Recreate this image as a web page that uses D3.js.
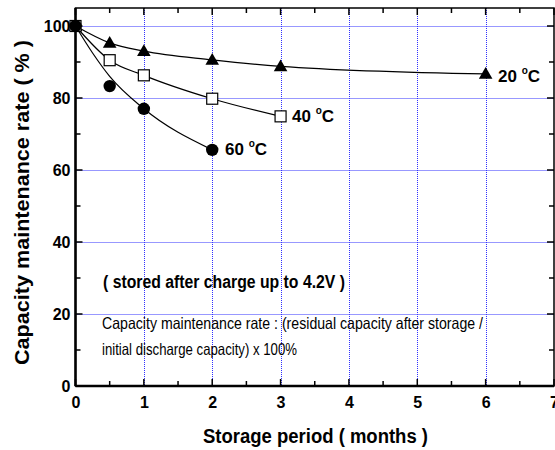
<!DOCTYPE html>
<html><head><meta charset="utf-8">
<script src="https://cdn.jsdelivr.net/npm/d3@7"></script>
<style>body{margin:0;background:#fff}svg{display:block}text{font-family:"Liberation Sans",Arial,sans-serif}</style>
</head><body><svg id="c" width="555" height="450"></svg>
<script>
// Data
const months = [0, 0.5, 1, 2, 3, 6];
const rate20 = [100, 95.3, 93.0, 90.6, 88.8, 86.7];
const months40 = [0, 0.5, 1, 2, 3];
const rate40 = [100, 90.5, 86.3, 79.8, 74.9];
const months60 = [0, 0.5, 1, 2];
const rate60 = [100, 83.3, 77.0, 65.6];
// fitted curves
const fit60x = [0, 0.25, 0.5, 1, 2];
const fit60y = [100, 92.5, 86.0, 77.0, 65.6];
const xTicks = [0, 1, 2, 3, 4, 5, 6, 7];
const yTicks = [0, 20, 40, 60, 80, 100];
const seriesLabels = ["20", "40", "60"];

const svg = d3.select("#c");
const L = 75.5, R = 554, T = 8, B = 386;
const x = d3.scaleLinear().domain([0, 7]).range([L, R]);
const y = d3.scaleLinear().domain([0, 105]).range([B, T]);
const px = v => Math.round(v) + 0.5;

// grid
const grid = svg.append("g").attr("stroke", "#3030ff").attr("stroke-width", 1).attr("stroke-dasharray", "1,1");
xTicks.slice(1, -1).forEach(v => grid.append("line").attr("x1", px(x(v))).attr("x2", px(x(v))).attr("y1", T).attr("y2", B));
yTicks.slice(1).forEach(v => grid.append("line").attr("x1", L).attr("x2", R).attr("y1", px(y(v))).attr("y2", px(y(v))));

// frame
svg.append("rect").attr("x", L).attr("y", T).attr("width", R - L).attr("height", B - T)
  .attr("fill", "none").attr("stroke", "#000").attr("stroke-width", 1.5);
svg.append("line").attr("x1", L).attr("x2", R).attr("y1", B).attr("y2", B).attr("stroke", "#000").attr("stroke-width", 2.5);
svg.append("line").attr("x1", L).attr("x2", L).attr("y1", T).attr("y2", B).attr("stroke", "#000").attr("stroke-width", 2.5);

// axes (ticks inward)
const xMinor = d3.range(0, 7.01, 0.5);
const yMinor = d3.range(0, 105, 10);
const tk = svg.append("g").attr("stroke", "#000").attr("stroke-width", 1.5);
xMinor.forEach(v => {
  const len = Number.isInteger(v) ? 7 : 5;
  tk.append("line").attr("x1", x(v)).attr("x2", x(v)).attr("y1", B).attr("y2", B - len);
  tk.append("line").attr("x1", x(v)).attr("x2", x(v)).attr("y1", T).attr("y2", T + len);
});
yMinor.forEach(v => {
  const len = v % 20 === 0 ? 7 : 5;
  tk.append("line").attr("x1", L).attr("x2", L + len).attr("y1", y(v)).attr("y2", y(v));
  tk.append("line").attr("x1", R).attr("x2", R - len).attr("y1", y(v)).attr("y2", y(v));
});

const xAxis = d3.axisBottom(x).tickValues(xTicks).tickSize(0).tickPadding(11).tickFormat(d3.format("d"));
const gx = svg.append("g").attr("transform", `translate(0,${B})`).call(xAxis);
gx.select(".domain").remove();
gx.selectAll("text").attr("font-size", 16).attr("font-weight", "bold").attr("fill", "#000")
  .attr("font-family", '"Liberation Sans",Arial,sans-serif');
const yAxis = d3.axisLeft(y).tickValues(yTicks).tickSize(0).tickPadding(5).tickFormat(d3.format("d"));
const gy = svg.append("g").attr("transform", `translate(${L},0)`).call(yAxis);
gy.select(".domain").remove();
gy.selectAll("text").attr("font-size", 16).attr("font-weight", "bold").attr("fill", "#000")
  .attr("font-family", '"Liberation Sans",Arial,sans-serif');

// curves
const line = d3.line().x(d => x(d[0])).y(d => y(d[1])).curve(d3.curveMonotoneX);
const curves = [d3.zip(months, rate20), d3.zip(months40, rate40), d3.zip(fit60x, fit60y)];
curves.forEach(c => svg.append("path").attr("d", line(c)).attr("fill", "none").attr("stroke", "#000").attr("stroke-width", 1.2));

// markers
const tri = d3.symbol().type(d3.symbolTriangle).size(80);
d3.zip(months, rate20).forEach(d => svg.append("path").attr("d", tri()).attr("transform", `translate(${x(d[0])},${y(d[1]) + 1})`).attr("fill", "#000"));
d3.zip(months40, rate40).forEach(d => svg.append("rect").attr("x", x(d[0]) - 5.5).attr("y", y(d[1]) - 5.5).attr("width", 11).attr("height", 11)
  .attr("fill", "#fff").attr("stroke", "#000").attr("stroke-width", 1.2));
d3.zip(months60, rate60).forEach(d => svg.append("circle").attr("cx", x(d[0])).attr("cy", y(d[1])).attr("r", 6.2).attr("fill", "#000"));

// series labels
const lab = [[498, 82], [292, 122], [225, 155]];
seriesLabels.forEach((s, i) => {
  const t = svg.append("text").attr("x", lab[i][0]).attr("y", lab[i][1]).attr("font-size", 17).attr("font-weight", "bold").attr("fill", "#000");
  t.append("tspan").text(s + " ");
  t.append("tspan").text("o").attr("font-size", 10).attr("dy", -8);
  t.append("tspan").text("C").attr("dy", 8);
});

// annotations
svg.append("text").attr("x", 103).attr("y", 288).attr("font-size", 18).attr("font-weight", "bold")
  .attr("textLength", 242).attr("lengthAdjust", "spacingAndGlyphs").text("( stored after charge up to 4.2V )");
svg.append("text").attr("x", 102).attr("y", 329).attr("font-size", 16.5)
  .attr("textLength", 381).attr("lengthAdjust", "spacingAndGlyphs").text("Capacity maintenance rate : (residual capacity after storage /");
svg.append("text").attr("x", 102).attr("y", 355).attr("font-size", 16.5)
  .attr("textLength", 195).attr("lengthAdjust", "spacingAndGlyphs").text("initial discharge capacity) x 100%");

// axis titles
svg.append("text").attr("x", 203).attr("y", 443).attr("font-size", 20).attr("font-weight", "bold")
  .attr("textLength", 225).attr("lengthAdjust", "spacingAndGlyphs").text("Storage period  ( months )");
svg.append("text").attr("transform", "translate(29,365) rotate(-90)").attr("font-size", 20).attr("font-weight", "bold")
  .attr("textLength", 325).attr("lengthAdjust", "spacingAndGlyphs").text("Capacity maintenance rate  ( % )");
</script></body></html>
